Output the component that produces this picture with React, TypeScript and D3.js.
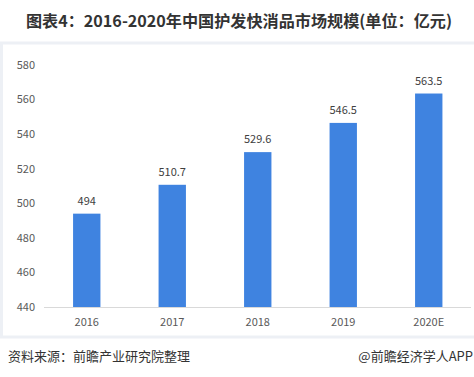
import React from "react";
import * as d3 from "d3";

const categories = ["2016", "2017", "2018", "2019", "2020E"];
const values = [494, 510.7, 529.6, 546.5, 563.5];
const valueLabels = ["494", "510.7", "529.6", "546.5", "563.5"];
const yTicks = [440, 460, 480, 500, 520, 540, 560, 580];
const title = "图表4：2016-2020年中国护发快消品市场规模(单位：亿元)";
const source = "资料来源：前瞻产业研究院整理";
const brand = "@前瞻经济学人APP";

const W = 474;
const H = 377;
const FONT = "'Microsoft YaHei', 'Noto Sans CJK SC', 'Noto Sans', sans-serif";

export default function App() {
  const x = d3.scaleBand<string>().domain(categories).range([44, 471.5]).paddingInner(0.68).paddingOuter(0.34);
  const y = d3.scaleLinear().domain([440, 580]).range([307, 65]);

  return (
    <svg
      width={W}
      height={H}
      style={{ position: "absolute", left: 0, top: 0, display: "block", background: "#fff" }}
      fontFamily={FONT}
    >
      <text x={26} y={27} textLength={426} lengthAdjust="spacingAndGlyphs" fontSize={16} fontWeight="bold" fill="#333">
        {title}
      </text>
      <rect x={1.5} y={43} width={480} height={294} fill="none" stroke="#edf0f5" strokeWidth={3} />
      {yTicks.map((t) => (
        <text key={t} x={35} y={y(t)} dy="0.35em" textAnchor="end" fontSize={11} fill="#595959">
          {t}
        </text>
      ))}
      <line x1={44} x2={471} y1={y(440) + 0.5} y2={y(440) + 0.5} stroke="#d9d9d9" strokeWidth={1} />
      {categories.map((c, i) => (
        <g key={c}>
          <rect x={x(c)} y={y(values[i])} width={x.bandwidth()} height={y(440) - y(values[i])} fill="#3f83e0" />
          <text
            x={(x(c) as number) + x.bandwidth() / 2}
            y={y(values[i]) - 9}
            textAnchor="middle"
            fontSize={11}
            fill="#404040"
          >
            {valueLabels[i]}
          </text>
          <text
            x={(x(c) as number) + x.bandwidth() / 2}
            y={322}
            dy="0.35em"
            textAnchor="middle"
            fontSize={11}
            fill="#595959"
          >
            {c}
          </text>
        </g>
      ))}
      <text x={8} y={361} fontSize={13} fill="#333">
        {source}
      </text>
      <text x={473} y={361} textAnchor="end" fontSize={13} fill="#333">
        {brand}
      </text>
    </svg>
  );
}
